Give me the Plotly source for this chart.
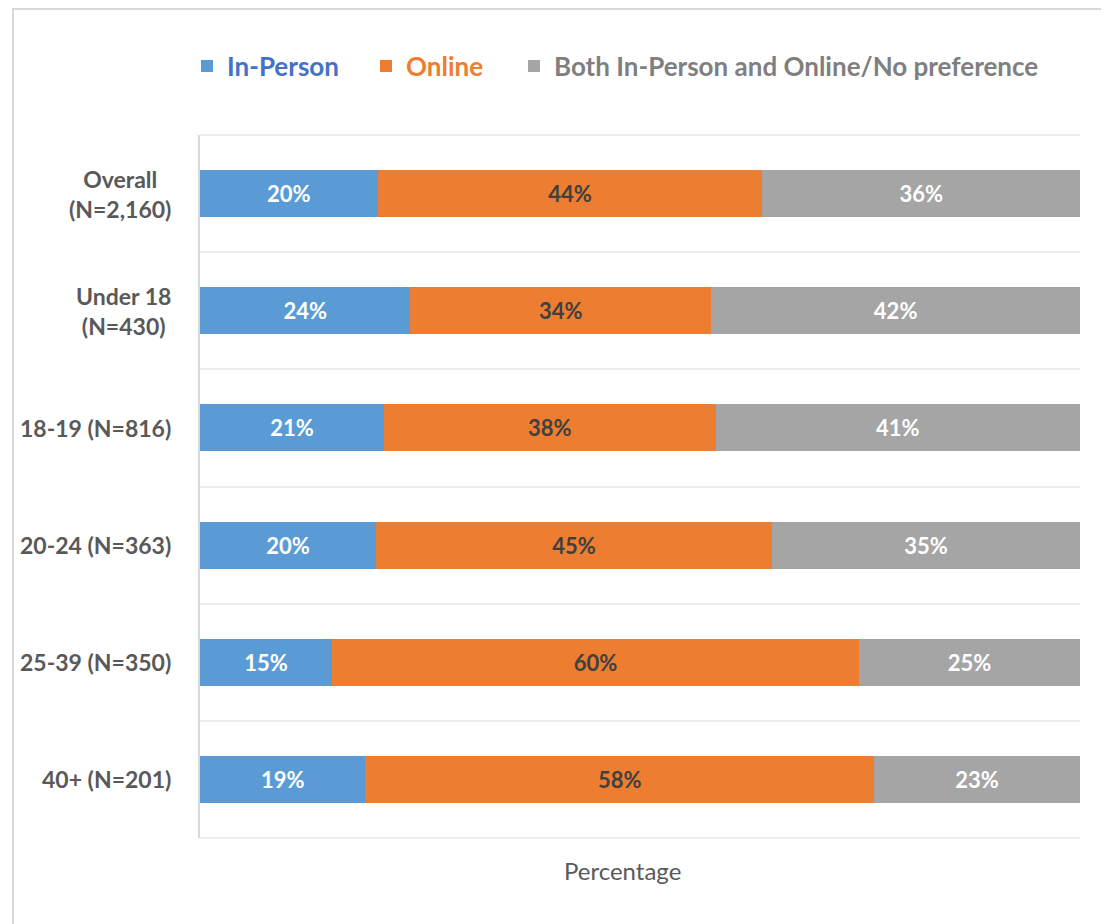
import plotly.graph_objects as go

categories = ["Overall<br>(N=2,160)", "Under 18<br>(N=430)", "18-19 (N=816)",
              "20-24 (N=363)", "25-39 (N=350)", "40+ (N=201)"]
in_person = [20.2, 23.9, 20.9, 20.0, 15.0, 18.8]
online = [43.7, 34.2, 37.7, 45.0, 59.9, 57.8]
both = [36.1, 41.9, 41.4, 35.0, 25.1, 23.4]

series = [
    ("In-Person", in_person, "#5B9BD5", "#FFFFFF", "#4472C4", "legend", 187),
    ("Online", online, "#ED7D31", "#404040", "#ED7D31", "legend2", 366),
    ("Both In-Person and Online/No preference", both, "#A5A5A5", "#FFFFFF", "#7F7F7F", "legend3", 514),
]

# page is rendered with an 8px body margin
OFF = 8
PAGE_W, PAGE_H = 1109, 924
W, H = PAGE_W - OFF, PAGE_H - OFF
L, R, T, B = 200, 1080, 135, 838   # plot area in page pixels


def px_x(p):
    return (p - L) / (R - L)


def px_y(p):
    return (B - p) / (B - T)


FONT = "Lato, 'Open Sans', sans-serif"
GRID = "#EDEDED"

fig = go.Figure()
for name, vals, color, tcolor, lcolor, leg, lx in series:
    fig.add_trace(go.Bar(
        y=categories, x=vals, name=name, orientation="h",
        marker=dict(color=color, line=dict(width=0)),
        texttemplate="%{x:.0f}%", textposition="inside",
        insidetextanchor="middle", constraintext="none",
        textfont=dict(family=FONT, size=22, color=tcolor, weight="bold"),
        legend=leg,
    ))

legend_common = dict(orientation="h", yanchor="middle", xanchor="left",
                     bgcolor="rgba(0,0,0,0)")
layout_legends = {}
for name, vals, color, tcolor, lcolor, leg, lx in series:
    layout_legends[leg] = dict(
        x=px_x(lx), y=px_y(66),
        font=dict(family=FONT, size=26, color=lcolor, weight="bold"),
        **legend_common)

annotations = []
for c in categories:
    annotations.append(dict(
        x=px_x(173), xref="paper", y=c, yref="y",
        xanchor="right", yanchor="middle", align="center",
        text=c, showarrow=False,
        font=dict(family=FONT, size=23, color="#595959", weight="bold"),
    ))
annotations.append(dict(
    x=px_x(622), xref="paper", y=px_y(871), yref="paper",
    xanchor="center", yanchor="middle", text="Percentage", showarrow=False,
    font=dict(family=FONT, size=24, color="#595959"),
))

shapes = [
    dict(type="rect", xref="paper", yref="paper",
         x0=px_x(13), x1=px_x(1105), y0=px_y(940), y1=px_y(9),
         line=dict(color="#D9D9D9", width=2), layer="below"),
    dict(type="line", xref="paper", yref="paper", x0=0, x1=1, y0=1, y1=1,
         line=dict(color=GRID, width=2), layer="below"),
    dict(type="line", xref="paper", yref="paper", x0=0, x1=1, y0=0, y1=0,
         line=dict(color=GRID, width=2), layer="below"),
]

fig.update_layout(
    width=W, height=H,
    margin=dict(l=L - OFF, r=PAGE_W - R, t=T - OFF, b=PAGE_H - B, pad=0),
    barmode="stack", bargap=0.6,
    paper_bgcolor="white", plot_bgcolor="white",
    showlegend=True,
    annotations=annotations,
    shapes=shapes,
    **layout_legends,
)
fig.update_xaxes(range=[0, 100], showgrid=False, showticklabels=False,
                 zeroline=False, showline=False, ticks="")
fig.update_yaxes(autorange="reversed", type="category", tickson="boundaries",
                 showgrid=True, gridcolor=GRID, gridwidth=2,
                 showticklabels=False, ticks="",
                 showline=True, linecolor="#D9D9D9", linewidth=2)

fig.write_html("out.html")
